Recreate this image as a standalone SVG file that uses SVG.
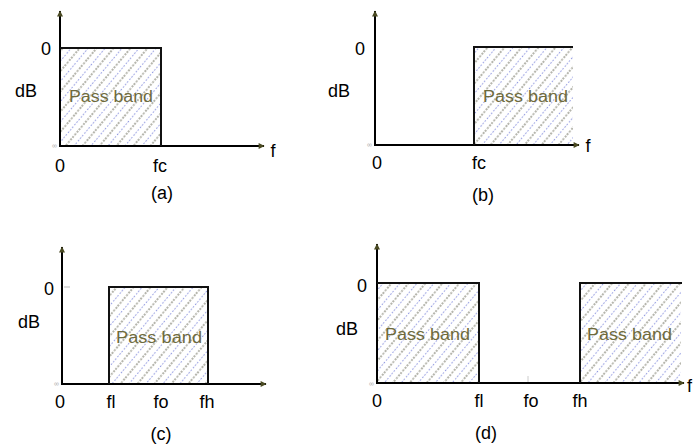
<svg xmlns="http://www.w3.org/2000/svg" width="693" height="445" viewBox="0 0 693 445">
<style>
.ax{stroke:#000;stroke-width:2;fill:none}
.bx{stroke:#111;stroke-width:2;fill:none}
.lbl{font-family:"Liberation Sans",Arial,sans-serif;font-size:18px;fill:#000;text-anchor:middle}
.pb{font-family:"Liberation Sans",Arial,sans-serif;font-size:16px;fill:#6e6a3c}
.inf{font-family:"Liberation Sans",Arial,sans-serif;font-size:7px;fill:#aaa;text-anchor:end}
.hatch{fill:url(#hatch);stroke:none}
</style>
<defs>
<pattern id="hatch" patternUnits="userSpaceOnUse" width="13" height="10" patternTransform="rotate(40)">
<line x1="1" y1="0" x2="1" y2="10" stroke="#7a7a6a" stroke-width="1.1" stroke-dasharray="2 1.5"/>
<line x1="7.5" y1="0" x2="7.5" y2="10" stroke="#9098e0" stroke-width="1.1" stroke-dasharray="1.5 1.8"/>
</pattern>
<marker id="arr" viewBox="0 0 10 10" refX="9" refY="5" markerWidth="9" markerHeight="6" markerUnits="userSpaceOnUse" orient="auto">
<path d="M0,0 L10,5 L0,10 Z" fill="#4a4a22"/>
</marker>
</defs>

<g id="panel-a">
<rect class="hatch" x="61" y="49" width="100" height="97"/>
<g id="axes-a">
<line class="ax" x1="60" y1="147" x2="60" y2="11" marker-end="url(#arr)"/>
<line class="ax" x1="59" y1="146" x2="264" y2="146" marker-end="url(#arr)"/>
</g>
<polyline class="bx" points="60,48 161,48 161,146"/>
<text class="lbl" x="46" y="55">0</text>
<text class="lbl" x="26" y="97">dB</text>
<text class="pb" x="69" y="102" textLength="84" lengthAdjust="spacingAndGlyphs">Pass band</text>
<text class="inf" x="57" y="148">∞</text>
<text class="lbl" x="60" y="172">0</text>
<text class="lbl" x="160" y="172">fc</text>
<text class="lbl" x="273" y="157">f</text>
<text class="lbl" x="162" y="199">(a)</text>
</g>

<g id="panel-b">
<rect class="hatch" x="475" y="48" width="98" height="97"/>
<g id="axes-b">
<line class="ax" x1="375" y1="146" x2="375" y2="11" marker-end="url(#arr)"/>
<line class="ax" x1="374" y1="145" x2="579" y2="145" marker-end="url(#arr)"/>
</g>
<polyline class="bx" points="474,145 474,47 573,47"/>
<text class="lbl" x="360" y="55">0</text>
<text class="lbl" x="339" y="97">dB</text>
<text class="pb" x="483" y="102" textLength="85" lengthAdjust="spacingAndGlyphs">Pass band</text>
<text class="inf" x="372" y="147">∞</text>
<text class="lbl" x="377" y="169">0</text>
<text class="lbl" x="479" y="169">fc</text>
<text class="lbl" x="588" y="152">f</text>
<text class="lbl" x="483" y="201">(b)</text>
</g>

<g id="panel-c">
<rect class="hatch" x="110" y="288" width="98" height="96"/>
<g id="axes-c">
<line class="ax" x1="62" y1="385" x2="62" y2="247" marker-end="url(#arr)"/>
<line class="ax" x1="61" y1="384" x2="266" y2="384" marker-end="url(#arr)"/>
</g>
<polyline class="bx" points="109,384 109,287 208,287 208,384"/>
<line x1="64" y1="287" x2="70" y2="287" stroke="#bbb" stroke-width="1"/>
<text class="lbl" x="49" y="295">0</text>
<text class="lbl" x="29" y="328">dB</text>
<text class="pb" x="116" y="343" textLength="86" lengthAdjust="spacingAndGlyphs">Pass band</text>
<text class="inf" x="59" y="386">∞</text>
<text class="lbl" x="60" y="408">0</text>
<text class="lbl" x="111" y="408">fl</text>
<text class="lbl" x="161" y="408">fo</text>
<text class="lbl" x="207" y="408">fh</text>
<text class="lbl" x="161" y="440">(c)</text>
</g>

<g id="panel-d">
<rect class="hatch" x="378" y="284" width="101" height="99"/>
<rect class="hatch" x="581" y="284" width="100" height="99"/>
<g id="axes-d">
<line class="ax" x1="377" y1="384" x2="377" y2="244" marker-end="url(#arr)"/>
<line class="ax" x1="376" y1="383" x2="684" y2="383" marker-end="url(#arr)"/>
</g>
<polyline class="bx" points="377,283 479,283 479,383"/>
<polyline class="bx" points="580,383 580,283 682,283"/>
<line x1="528" y1="376" x2="528" y2="382" stroke="#ccc" stroke-width="1"/>
<text class="lbl" x="362" y="292">0</text>
<text class="lbl" x="347" y="335">dB</text>
<text class="pb" x="385" y="340" textLength="85" lengthAdjust="spacingAndGlyphs">Pass band</text>
<text class="pb" x="587" y="340" textLength="85" lengthAdjust="spacingAndGlyphs">Pass band</text>
<text class="inf" x="374" y="386">∞</text>
<text class="lbl" x="377" y="407">0</text>
<text class="lbl" x="479" y="407">fl</text>
<text class="lbl" x="531" y="407">fo</text>
<text class="lbl" x="580" y="407">fh</text>
<text class="lbl" x="692" y="392" style="text-anchor:end">f</text>
<text class="lbl" x="486" y="439">(d)</text>
</g>
</svg>
